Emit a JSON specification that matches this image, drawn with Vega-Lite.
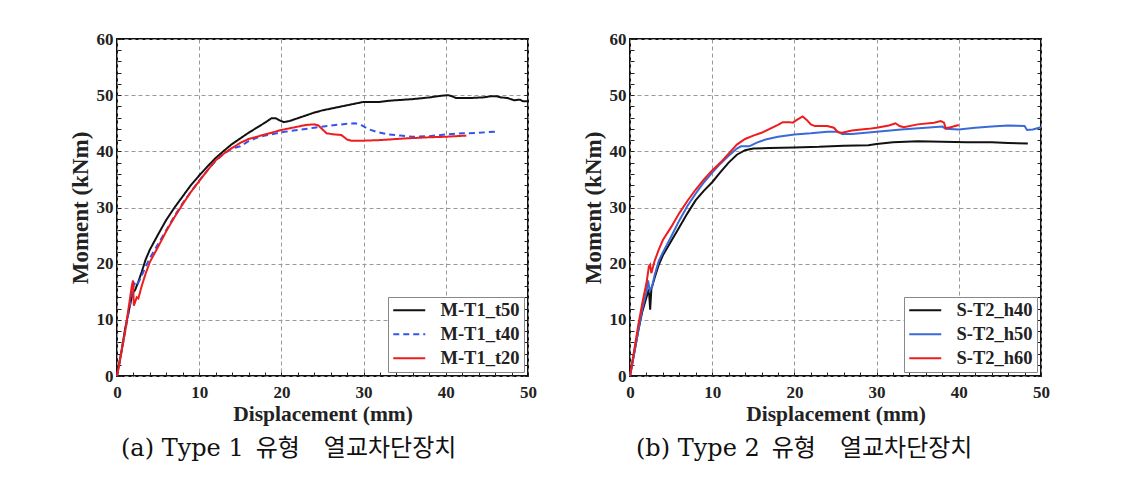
{
  "$schema": "https://vega.github.io/schema/vega-lite/v6.json",
  "background": "white",
  "padding": {"left": 68, "top": 29, "right": 5, "bottom": 5},
  "datasets": {
    "a": [
      {"x":0,"m":0,"s":"M-T1_t50"},{"x":0.5,"m":4,"s":"M-T1_t50"},{"x":1,"m":8.5,"s":"M-T1_t50"},{"x":1.5,"m":12,"s":"M-T1_t50"},{"x":1.9,"m":14.8,"s":"M-T1_t50"},{"x":2.2,"m":15.3,"s":"M-T1_t50"},{"x":2.6,"m":16.8,"s":"M-T1_t50"},{"x":3,"m":18.5,"s":"M-T1_t50"},{"x":3.5,"m":20.8,"s":"M-T1_t50"},{"x":4,"m":22.5,"s":"M-T1_t50"},{"x":5,"m":25.2,"s":"M-T1_t50"},{"x":6,"m":27.8,"s":"M-T1_t50"},{"x":7,"m":30,"s":"M-T1_t50"},{"x":8,"m":32,"s":"M-T1_t50"},{"x":9,"m":34,"s":"M-T1_t50"},{"x":10,"m":35.7,"s":"M-T1_t50"},{"x":11,"m":37.3,"s":"M-T1_t50"},{"x":12,"m":38.8,"s":"M-T1_t50"},{"x":13,"m":40.1,"s":"M-T1_t50"},{"x":14,"m":41.3,"s":"M-T1_t50"},{"x":15,"m":42.3,"s":"M-T1_t50"},{"x":16,"m":43.3,"s":"M-T1_t50"},{"x":17,"m":44.2,"s":"M-T1_t50"},{"x":18,"m":45.1,"s":"M-T1_t50"},{"x":18.8,"m":45.9,"s":"M-T1_t50"},{"x":19.3,"m":45.9,"s":"M-T1_t50"},{"x":19.8,"m":45.5,"s":"M-T1_t50"},{"x":20.3,"m":45.2,"s":"M-T1_t50"},{"x":21,"m":45.4,"s":"M-T1_t50"},{"x":22,"m":45.9,"s":"M-T1_t50"},{"x":23,"m":46.4,"s":"M-T1_t50"},{"x":24,"m":46.9,"s":"M-T1_t50"},{"x":25,"m":47.3,"s":"M-T1_t50"},{"x":26,"m":47.6,"s":"M-T1_t50"},{"x":27,"m":47.9,"s":"M-T1_t50"},{"x":28,"m":48.2,"s":"M-T1_t50"},{"x":29,"m":48.5,"s":"M-T1_t50"},{"x":30,"m":48.8,"s":"M-T1_t50"},{"x":31,"m":48.8,"s":"M-T1_t50"},{"x":32,"m":48.8,"s":"M-T1_t50"},{"x":33,"m":49,"s":"M-T1_t50"},{"x":34,"m":49.1,"s":"M-T1_t50"},{"x":36,"m":49.3,"s":"M-T1_t50"},{"x":38,"m":49.6,"s":"M-T1_t50"},{"x":39.5,"m":49.9,"s":"M-T1_t50"},{"x":40.3,"m":50,"s":"M-T1_t50"},{"x":40.8,"m":49.8,"s":"M-T1_t50"},{"x":41.2,"m":49.5,"s":"M-T1_t50"},{"x":43,"m":49.5,"s":"M-T1_t50"},{"x":44.5,"m":49.6,"s":"M-T1_t50"},{"x":45.5,"m":49.8,"s":"M-T1_t50"},{"x":46.2,"m":49.8,"s":"M-T1_t50"},{"x":46.7,"m":49.6,"s":"M-T1_t50"},{"x":47.5,"m":49.5,"s":"M-T1_t50"},{"x":48.3,"m":49.1,"s":"M-T1_t50"},{"x":49,"m":49.2,"s":"M-T1_t50"},{"x":49.4,"m":48.9,"s":"M-T1_t50"},{"x":50,"m":48.9,"s":"M-T1_t50"},
      {"x":0,"m":0,"s":"M-T1_t40"},{"x":1,"m":8,"s":"M-T1_t40"},{"x":1.8,"m":14.5,"s":"M-T1_t40"},{"x":2.1,"m":16.5,"s":"M-T1_t40"},{"x":2.4,"m":16,"s":"M-T1_t40"},{"x":2.8,"m":17.2,"s":"M-T1_t40"},{"x":3.5,"m":19.5,"s":"M-T1_t40"},{"x":4,"m":21,"s":"M-T1_t40"},{"x":5,"m":23.5,"s":"M-T1_t40"},{"x":6,"m":26,"s":"M-T1_t40"},{"x":7,"m":28.5,"s":"M-T1_t40"},{"x":8,"m":30.8,"s":"M-T1_t40"},{"x":9,"m":32.8,"s":"M-T1_t40"},{"x":10,"m":34.8,"s":"M-T1_t40"},{"x":11,"m":36.6,"s":"M-T1_t40"},{"x":12,"m":38.3,"s":"M-T1_t40"},{"x":13,"m":39.6,"s":"M-T1_t40"},{"x":14,"m":40.5,"s":"M-T1_t40"},{"x":15,"m":40.9,"s":"M-T1_t40"},{"x":16,"m":41.8,"s":"M-T1_t40"},{"x":17,"m":42.4,"s":"M-T1_t40"},{"x":18,"m":42.8,"s":"M-T1_t40"},{"x":20,"m":43.4,"s":"M-T1_t40"},{"x":22,"m":43.8,"s":"M-T1_t40"},{"x":24,"m":44.2,"s":"M-T1_t40"},{"x":26,"m":44.6,"s":"M-T1_t40"},{"x":28,"m":44.9,"s":"M-T1_t40"},{"x":29,"m":45,"s":"M-T1_t40"},{"x":29.8,"m":44.6,"s":"M-T1_t40"},{"x":30.5,"m":44,"s":"M-T1_t40"},{"x":31.5,"m":43.5,"s":"M-T1_t40"},{"x":33,"m":43,"s":"M-T1_t40"},{"x":34.5,"m":42.8,"s":"M-T1_t40"},{"x":36,"m":42.6,"s":"M-T1_t40"},{"x":38,"m":42.7,"s":"M-T1_t40"},{"x":40,"m":43,"s":"M-T1_t40"},{"x":42,"m":43.2,"s":"M-T1_t40"},{"x":44,"m":43.3,"s":"M-T1_t40"},{"x":46,"m":43.5,"s":"M-T1_t40"},
      {"x":0,"m":0,"s":"M-T1_t20"},{"x":0.5,"m":4,"s":"M-T1_t20"},{"x":1,"m":8,"s":"M-T1_t20"},{"x":1.5,"m":13,"s":"M-T1_t20"},{"x":1.8,"m":16,"s":"M-T1_t20"},{"x":1.95,"m":17,"s":"M-T1_t20"},{"x":2.05,"m":12.5,"s":"M-T1_t20"},{"x":2.4,"m":14,"s":"M-T1_t20"},{"x":2.6,"m":13.8,"s":"M-T1_t20"},{"x":3,"m":16,"s":"M-T1_t20"},{"x":3.5,"m":18.3,"s":"M-T1_t20"},{"x":4,"m":20.3,"s":"M-T1_t20"},{"x":5,"m":23,"s":"M-T1_t20"},{"x":6,"m":25.8,"s":"M-T1_t20"},{"x":7,"m":28.3,"s":"M-T1_t20"},{"x":8,"m":30.6,"s":"M-T1_t20"},{"x":9,"m":32.8,"s":"M-T1_t20"},{"x":10,"m":34.7,"s":"M-T1_t20"},{"x":11,"m":36.6,"s":"M-T1_t20"},{"x":12,"m":38.4,"s":"M-T1_t20"},{"x":13,"m":39.6,"s":"M-T1_t20"},{"x":14,"m":40.6,"s":"M-T1_t20"},{"x":15,"m":41.5,"s":"M-T1_t20"},{"x":16,"m":42.2,"s":"M-T1_t20"},{"x":17,"m":42.6,"s":"M-T1_t20"},{"x":18,"m":43,"s":"M-T1_t20"},{"x":19,"m":43.4,"s":"M-T1_t20"},{"x":20,"m":43.8,"s":"M-T1_t20"},{"x":21,"m":44.1,"s":"M-T1_t20"},{"x":22,"m":44.4,"s":"M-T1_t20"},{"x":23,"m":44.7,"s":"M-T1_t20"},{"x":24,"m":44.8,"s":"M-T1_t20"},{"x":24.5,"m":44.6,"s":"M-T1_t20"},{"x":25,"m":43.9,"s":"M-T1_t20"},{"x":25.5,"m":43.2,"s":"M-T1_t20"},{"x":26.5,"m":43,"s":"M-T1_t20"},{"x":27.3,"m":42.9,"s":"M-T1_t20"},{"x":28,"m":42.1,"s":"M-T1_t20"},{"x":28.5,"m":41.9,"s":"M-T1_t20"},{"x":30,"m":41.9,"s":"M-T1_t20"},{"x":32,"m":42,"s":"M-T1_t20"},{"x":35,"m":42.3,"s":"M-T1_t20"},{"x":38,"m":42.5,"s":"M-T1_t20"},{"x":40,"m":42.6,"s":"M-T1_t20"},{"x":42.5,"m":42.8,"s":"M-T1_t20"}
    ],
    "b": [
      {"x":0,"m":0,"s":"S-T2_h40"},{"x":0.5,"m":4,"s":"S-T2_h40"},{"x":1,"m":8,"s":"S-T2_h40"},{"x":1.5,"m":11.5,"s":"S-T2_h40"},{"x":2,"m":14,"s":"S-T2_h40"},{"x":2.3,"m":15.5,"s":"S-T2_h40"},{"x":2.45,"m":11.8,"s":"S-T2_h40"},{"x":2.6,"m":15.5,"s":"S-T2_h40"},{"x":3,"m":17.5,"s":"S-T2_h40"},{"x":3.5,"m":19.8,"s":"S-T2_h40"},{"x":4,"m":21.5,"s":"S-T2_h40"},{"x":5,"m":24,"s":"S-T2_h40"},{"x":6,"m":26.5,"s":"S-T2_h40"},{"x":7,"m":29,"s":"S-T2_h40"},{"x":8,"m":31.3,"s":"S-T2_h40"},{"x":9,"m":33,"s":"S-T2_h40"},{"x":10,"m":34.5,"s":"S-T2_h40"},{"x":11,"m":36.3,"s":"S-T2_h40"},{"x":12,"m":38,"s":"S-T2_h40"},{"x":13,"m":39.4,"s":"S-T2_h40"},{"x":14,"m":40.2,"s":"S-T2_h40"},{"x":15,"m":40.5,"s":"S-T2_h40"},{"x":17,"m":40.6,"s":"S-T2_h40"},{"x":20,"m":40.7,"s":"S-T2_h40"},{"x":23,"m":40.8,"s":"S-T2_h40"},{"x":26,"m":41,"s":"S-T2_h40"},{"x":29,"m":41.1,"s":"S-T2_h40"},{"x":30,"m":41.3,"s":"S-T2_h40"},{"x":32,"m":41.6,"s":"S-T2_h40"},{"x":35,"m":41.8,"s":"S-T2_h40"},{"x":38,"m":41.7,"s":"S-T2_h40"},{"x":41,"m":41.6,"s":"S-T2_h40"},{"x":44,"m":41.6,"s":"S-T2_h40"},{"x":46,"m":41.5,"s":"S-T2_h40"},{"x":48.4,"m":41.4,"s":"S-T2_h40"},
      {"x":0,"m":0,"s":"S-T2_h50"},{"x":0.5,"m":4,"s":"S-T2_h50"},{"x":1,"m":8,"s":"S-T2_h50"},{"x":1.5,"m":12,"s":"S-T2_h50"},{"x":2,"m":15,"s":"S-T2_h50"},{"x":2.2,"m":17,"s":"S-T2_h50"},{"x":2.4,"m":15.2,"s":"S-T2_h50"},{"x":2.7,"m":16,"s":"S-T2_h50"},{"x":3,"m":18,"s":"S-T2_h50"},{"x":3.5,"m":20.5,"s":"S-T2_h50"},{"x":4,"m":22,"s":"S-T2_h50"},{"x":5,"m":24.8,"s":"S-T2_h50"},{"x":6,"m":27.7,"s":"S-T2_h50"},{"x":7,"m":30.3,"s":"S-T2_h50"},{"x":8,"m":32.5,"s":"S-T2_h50"},{"x":9,"m":34.5,"s":"S-T2_h50"},{"x":10,"m":36.2,"s":"S-T2_h50"},{"x":11,"m":37.8,"s":"S-T2_h50"},{"x":12,"m":39.2,"s":"S-T2_h50"},{"x":13,"m":40.5,"s":"S-T2_h50"},{"x":13.5,"m":40.9,"s":"S-T2_h50"},{"x":14.5,"m":40.9,"s":"S-T2_h50"},{"x":15.5,"m":41.6,"s":"S-T2_h50"},{"x":16.5,"m":42.1,"s":"S-T2_h50"},{"x":18,"m":42.6,"s":"S-T2_h50"},{"x":20,"m":43,"s":"S-T2_h50"},{"x":22,"m":43.2,"s":"S-T2_h50"},{"x":24,"m":43.5,"s":"S-T2_h50"},{"x":25.3,"m":43.5,"s":"S-T2_h50"},{"x":25.8,"m":43.1,"s":"S-T2_h50"},{"x":27,"m":43.1,"s":"S-T2_h50"},{"x":30,"m":43.5,"s":"S-T2_h50"},{"x":33,"m":43.9,"s":"S-T2_h50"},{"x":36,"m":44.2,"s":"S-T2_h50"},{"x":38,"m":44.4,"s":"S-T2_h50"},{"x":38.4,"m":44,"s":"S-T2_h50"},{"x":40,"m":43.9,"s":"S-T2_h50"},{"x":42,"m":44.2,"s":"S-T2_h50"},{"x":44,"m":44.4,"s":"S-T2_h50"},{"x":46,"m":44.6,"s":"S-T2_h50"},{"x":48,"m":44.5,"s":"S-T2_h50"},{"x":48.3,"m":43.8,"s":"S-T2_h50"},{"x":49,"m":43.9,"s":"S-T2_h50"},{"x":50,"m":44.3,"s":"S-T2_h50"},
      {"x":0,"m":0,"s":"S-T2_h60"},{"x":0.5,"m":4.5,"s":"S-T2_h60"},{"x":1,"m":9,"s":"S-T2_h60"},{"x":1.5,"m":13,"s":"S-T2_h60"},{"x":2,"m":16.5,"s":"S-T2_h60"},{"x":2.3,"m":19.5,"s":"S-T2_h60"},{"x":2.45,"m":19.8,"s":"S-T2_h60"},{"x":2.6,"m":18.3,"s":"S-T2_h60"},{"x":3,"m":20.5,"s":"S-T2_h60"},{"x":3.5,"m":22.5,"s":"S-T2_h60"},{"x":4,"m":24.2,"s":"S-T2_h60"},{"x":5,"m":26.5,"s":"S-T2_h60"},{"x":6,"m":29,"s":"S-T2_h60"},{"x":7,"m":31.2,"s":"S-T2_h60"},{"x":8,"m":33.2,"s":"S-T2_h60"},{"x":9,"m":35,"s":"S-T2_h60"},{"x":10,"m":36.6,"s":"S-T2_h60"},{"x":11,"m":38,"s":"S-T2_h60"},{"x":12,"m":39.6,"s":"S-T2_h60"},{"x":13,"m":41.2,"s":"S-T2_h60"},{"x":14,"m":42.2,"s":"S-T2_h60"},{"x":15,"m":42.8,"s":"S-T2_h60"},{"x":16,"m":43.3,"s":"S-T2_h60"},{"x":17,"m":44,"s":"S-T2_h60"},{"x":18,"m":44.7,"s":"S-T2_h60"},{"x":18.6,"m":45.2,"s":"S-T2_h60"},{"x":19.4,"m":45.2,"s":"S-T2_h60"},{"x":19.8,"m":45.1,"s":"S-T2_h60"},{"x":20.3,"m":45.6,"s":"S-T2_h60"},{"x":21,"m":46.2,"s":"S-T2_h60"},{"x":21.5,"m":45.6,"s":"S-T2_h60"},{"x":22,"m":44.8,"s":"S-T2_h60"},{"x":22.5,"m":44.5,"s":"S-T2_h60"},{"x":24,"m":44.5,"s":"S-T2_h60"},{"x":24.8,"m":44.2,"s":"S-T2_h60"},{"x":25.3,"m":43.4,"s":"S-T2_h60"},{"x":25.8,"m":43.3,"s":"S-T2_h60"},{"x":27,"m":43.7,"s":"S-T2_h60"},{"x":29,"m":44,"s":"S-T2_h60"},{"x":30,"m":44.2,"s":"S-T2_h60"},{"x":31.5,"m":44.6,"s":"S-T2_h60"},{"x":32.3,"m":45,"s":"S-T2_h60"},{"x":32.8,"m":44.5,"s":"S-T2_h60"},{"x":33.3,"m":44.3,"s":"S-T2_h60"},{"x":35,"m":44.8,"s":"S-T2_h60"},{"x":37,"m":45.1,"s":"S-T2_h60"},{"x":37.8,"m":45.4,"s":"S-T2_h60"},{"x":38.2,"m":45.1,"s":"S-T2_h60"},{"x":38.4,"m":44.1,"s":"S-T2_h60"},{"x":39,"m":44.3,"s":"S-T2_h60"},{"x":40,"m":44.7,"s":"S-T2_h60"}
    ]
  },
  "config": {
    "view": {"stroke": "#111", "strokeWidth": 2},
    "font": "Liberation Serif",
    "axis": {
      "domain": false, "labelFlush": false,
      "labelFont": "Liberation Serif", "labelFontWeight": "bold", "labelFontSize": 17, "labelColor": "#222",
      "titleFont": "Liberation Serif", "titleFontWeight": "bold", "titleColor": "#222",
      "gridColor": "#999", "gridDash": [4, 3], "gridWidth": 1,
      "tickColor": "#222", "tickSize": -4, "tickWidth": 1
    },
    "axisX": {"titleFontSize": 21.5, "labelPadding": 12, "titlePadding": 3},
    "axisY": {"titleFontSize": 23, "labelPadding": 8, "minExtent": 20, "maxExtent": 20, "titlePadding": 5},
    "legend": {
      "orient": "bottom-right", "offset": 4, "padding": 4,
      "strokeColor": "#888", "fillColor": "white", "cornerRadius": 0,
      "labelFont": "Liberation Serif", "labelFontWeight": "bold", "labelFontSize": 18.5, "labelColor": "#222",
      "symbolType": "M-1,0H3", "symbolSize": 256, "symbolStrokeWidth": 2,
      "labelOffset": 30, "rowPadding": 5
    },
    "title": {"font": "DejaVu Serif, Noto Sans CJK KR", "fontSize": 24, "fontWeight": "normal", "color": "#111", "orient": "bottom", "anchor": "start", "frame": "group", "offset": 12}
  },
  "bounds": "flush",
  "spacing": 102,
  "resolve": {"scale": {"color": "independent", "strokeDash": "independent"}},
  "hconcat": [
    {
      "width": 411, "height": 337,
      "title": {"text": "(a) Type 1\u2002유형\u2003열교차단장치", "dx": 4},
      "data": {"name": "a"},
      "resolve": {"axis": {"y": "independent"}},
      "layer": [
        {
          "mark": {"type": "line", "strokeWidth": 2},
          "encoding": {
            "x": {"field": "x", "type": "quantitative", "title": "Displacement (mm)",
                  "scale": {"domain": [0, 50], "nice": false},
                  "axis": {"values": [0,2,4,6,8,10,12,14,16,18,20,22,24,26,28,30,32,34,36,38,40,42,44,46,48,50],
                           "labelExpr": "datum.value % 10 === 0 ? datum.label : ''",
                           "gridOpacity": {"condition": {"test": "datum.value % 10 === 0", "value": 1}, "value": 0}}},
            "y": {"field": "m", "type": "quantitative", "title": "Moment (kNm)",
                  "scale": {"domain": [0, 60], "nice": false},
                  "axis": {"orient": "left", "values": [0,2,4,6,8,10,12,14,16,18,20,22,24,26,28,30,32,34,36,38,40,42,44,46,48,50,52,54,56,58,60],
                           "labelExpr": "datum.value % 10 === 0 ? datum.label : ''",
                           "gridOpacity": {"condition": {"test": "datum.value % 10 === 0", "value": 1}, "value": 0}}},
            "color": {"field": "s", "type": "nominal", "title": null,
                      "scale": {"domain": ["M-T1_t50", "M-T1_t40", "M-T1_t20"], "range": ["#111111", "#3355ee", "#ee1c1c"]}},
            "strokeDash": {"field": "s", "type": "nominal", "title": null,
                      "scale": {"domain": ["M-T1_t50", "M-T1_t40", "M-T1_t20"], "range": [[1, 0], [6, 4], [1, 0]]}}
          }
        },
        {
          "mark": {"type": "point", "opacity": 0},
          "encoding": {
            "x": {"field": "x", "type": "quantitative", "title": "Displacement (mm)",
                  "axis": {"values": [0,2,4,6,8,10,12,14,16,18,20,22,24,26,28,30,32,34,36,38,40,42,44,46,48,50],
                           "labelExpr": "datum.value % 10 === 0 ? datum.label : ''",
                           "gridOpacity": {"condition": {"test": "datum.value % 10 === 0", "value": 1}, "value": 0}}},
            "y": {"field": "m", "type": "quantitative",
                  "axis": {"orient": "right", "title": null, "labels": false, "grid": false, "minExtent": 0, "maxExtent": 0,
                           "values": [0,2,4,6,8,10,12,14,16,18,20,22,24,26,28,30,32,34,36,38,40,42,44,46,48,50,52,54,56,58,60]}}
          }
        }
      ]
    },
    {
      "width": 411, "height": 337,
      "title": {"text": "(b) Type 2\u2002유형\u2003열교차단장치", "dx": 6},
      "data": {"name": "b"},
      "resolve": {"axis": {"y": "independent"}},
      "layer": [
        {
          "mark": {"type": "line", "strokeWidth": 2},
          "encoding": {
            "x": {"field": "x", "type": "quantitative", "title": "Displacement (mm)",
                  "scale": {"domain": [0, 50], "nice": false},
                  "axis": {"values": [0,2,4,6,8,10,12,14,16,18,20,22,24,26,28,30,32,34,36,38,40,42,44,46,48,50],
                           "labelExpr": "datum.value % 10 === 0 ? datum.label : ''",
                           "gridOpacity": {"condition": {"test": "datum.value % 10 === 0", "value": 1}, "value": 0}}},
            "y": {"field": "m", "type": "quantitative", "title": "Moment (kNm)",
                  "scale": {"domain": [0, 60], "nice": false},
                  "axis": {"orient": "left", "values": [0,2,4,6,8,10,12,14,16,18,20,22,24,26,28,30,32,34,36,38,40,42,44,46,48,50,52,54,56,58,60],
                           "labelExpr": "datum.value % 10 === 0 ? datum.label : ''",
                           "gridOpacity": {"condition": {"test": "datum.value % 10 === 0", "value": 1}, "value": 0}}},
            "color": {"field": "s", "type": "nominal", "title": null,
                      "scale": {"domain": ["S-T2_h40", "S-T2_h50", "S-T2_h60"], "range": ["#111111", "#3a6ad8", "#ee1c1c"]}}
          }
        },
        {
          "mark": {"type": "point", "opacity": 0},
          "encoding": {
            "x": {"field": "x", "type": "quantitative", "title": "Displacement (mm)",
                  "axis": {"values": [0,2,4,6,8,10,12,14,16,18,20,22,24,26,28,30,32,34,36,38,40,42,44,46,48,50],
                           "labelExpr": "datum.value % 10 === 0 ? datum.label : ''",
                           "gridOpacity": {"condition": {"test": "datum.value % 10 === 0", "value": 1}, "value": 0}}},
            "y": {"field": "m", "type": "quantitative",
                  "axis": {"orient": "right", "title": null, "labels": false, "grid": false, "minExtent": 0, "maxExtent": 0,
                           "values": [0,2,4,6,8,10,12,14,16,18,20,22,24,26,28,30,32,34,36,38,40,42,44,46,48,50,52,54,56,58,60]}}
          }
        }
      ]
    }
  ]
}
